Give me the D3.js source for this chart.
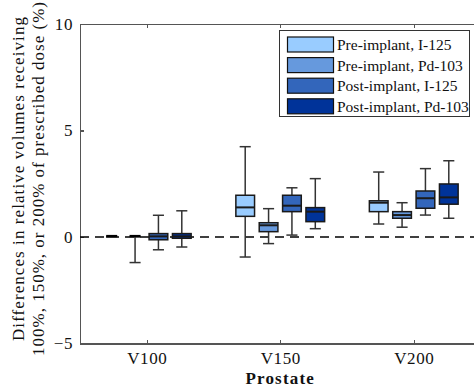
<!DOCTYPE html>
<html>
<meta charset="utf-8">
<style>
    body { margin: 0; background: #fff; }
    .axis path, .axis line { stroke: #555; stroke-width: 1.2px; shape-rendering: crispEdges; }
    .axis text { fill: #111; font-family: "Liberation Serif", "Times New Roman", serif; font-size: 17px; letter-spacing: 0.6px; }
    .ylabel { font-family: "Liberation Serif", "Times New Roman", serif; font-size: 17px; fill: #111; }
    .xlabel { font-family: "Liberation Serif", "Times New Roman", serif; font-size: 17px; font-weight: bold; letter-spacing: 1.2px; fill: #111; }
    .legend text { font-family: "Liberation Serif", "Times New Roman", serif; font-size: 15.5px; fill: #111; }
    .whisker { stroke: #333; stroke-width: 1.5px; }
    .box { stroke: #1a1a1a; stroke-width: 1.5px; }
    .median { stroke: #1a1a1a; stroke-width: 2px; }
    .flat { stroke: #000; stroke-width: 2.2px; }
    .zero { stroke: #000; stroke-width: 1.3px; stroke-dasharray: 9, 6; }
</style>

<body>
    <script src="https://d3js.org/d3.v7.min.js"></script>
    <script>

        var width = 474,
            height = 390;

        var categories = ["V100", "V150", "V200"];
        var series = ["Pre-implant, I-125", "Pre-implant, Pd-103", "Post-implant, I-125", "Post-implant, Pd-103"];
        var colors = ["#99ccff", "#6699dd", "#3366bb", "#003399"];
        var yTicks = [-5, 0, 5, 10];
        var yTitle = ["Differences in relative volumes receiving", "100%, 150%, or 200% of prescribed dose (%)"];

        // [lower whisker, q1, median, q3, upper whisker] for V100, V150, V200
        var preI125 = [[0, 0, 0, 0, 0], [-0.94, 0.97, 1.39, 1.96, 4.24], [0.61, 1.19, 1.61, 1.70, 3.05]];
        var prePd103 = [[-1.2, 0, 0, 0, 0], [-0.31, 0.25, 0.55, 0.67, 1.33], [0.46, 0.88, 1.03, 1.19, 1.61]];
        var postI125 = [[-0.6, -0.13, 0.03, 0.16, 1.02], [0.09, 1.19, 1.47, 1.96, 2.31], [1.03, 1.35, 1.82, 2.16, 3.21]];
        var postPd103 = [[-0.47, -0.06, 0.03, 0.16, 1.23], [0.39, 0.72, 1.19, 1.38, 2.74], [0.88, 1.54, 1.86, 2.49, 3.58]];

        var allSeries = [preI125, prePd103, postI125, postPd103];
        var offsets = [-0.2625, -0.0875, 0.0875, 0.2625];
        var boxW = 0.14, capW = 0.083;

        var x = d3.scaleLinear().domain([0.5, 3.5]).range([80, 480.5]);
        var y = d3.scaleLinear().domain([-5, 10]).range([343.5, 24]);

        var svg = d3.select("body").append("svg")
            .attr("width", width)
            .attr("height", height);

        // axes with inward ticks
        svg.append("g").attr("class", "axis")
            .attr("transform", "translate(0," + y(-5) + ")")
            .call(d3.axisBottom(x).tickValues([1, 2, 3])
                .tickFormat(function (d) { return categories[d - 1]; })
                .tickSizeInner(-4).tickSizeOuter(0).tickPadding(8.5));

        svg.append("g").attr("class", "axis")
            .attr("transform", "translate(0," + y(10) + ")")
            .call(d3.axisTop(x).tickValues([1, 2, 3]).tickFormat("")
                .tickSizeInner(-4).tickSizeOuter(0));

        svg.append("g").attr("class", "axis")
            .attr("transform", "translate(" + x(0.5) + ",0)")
            .call(d3.axisLeft(y).tickValues(yTicks)
                .tickSizeInner(-4).tickSizeOuter(0).tickPadding(7));

        svg.selectAll(".axis").attr("font-family", null).attr("font-size", null);

        // zero reference line
        svg.append("line").attr("class", "zero")
            .attr("x1", x(0.5)).attr("x2", x(3.5))
            .attr("y1", y(0)).attr("y2", y(0));

        // boxes
        allSeries.forEach(function (s, si) {
            var g = svg.append("g");
            s.forEach(function (d, ci) {
                var cx = ci + 1 + offsets[si];
                var gg = g.append("g");
                gg.append("line").attr("class", "whisker")
                    .attr("x1", x(cx)).attr("x2", x(cx))
                    .attr("y1", y(d[4])).attr("y2", y(d[0]));
                [d[0], d[4]].forEach(function (v) {
                    gg.append("line").attr("class", "whisker")
                        .attr("x1", x(cx - capW / 2)).attr("x2", x(cx + capW / 2))
                        .attr("y1", y(v)).attr("y2", y(v));
                });
                if (d[3] - d[1] > 0.05) {
                    gg.append("rect").attr("class", "box")
                        .attr("x", x(cx - boxW / 2))
                        .attr("width", x(cx + boxW / 2) - x(cx - boxW / 2))
                        .attr("y", y(d[3]))
                        .attr("height", y(d[1]) - y(d[3]))
                        .attr("fill", colors[si]);
                    gg.append("line").attr("class", "median")
                        .attr("x1", x(cx - boxW / 2)).attr("x2", x(cx + boxW / 2))
                        .attr("y1", y(d[2])).attr("y2", y(d[2]));
                } else {
                    // collapsed box: only a short flat bar shows
                    gg.append("line").attr("class", "flat")
                        .attr("x1", x(cx - capW / 2)).attr("x2", x(cx + capW / 2))
                        .attr("y1", y(d[2]) - 1).attr("y2", y(d[2]) - 1);
                }
            });
        });

        // axis titles
        var yLens = [324, 354];
        yTitle.forEach(function (t, i) {
            svg.append("text").attr("class", "ylabel")
                .attr("transform", "translate(" + (24 + i * 20) + ",179) rotate(-90)")
                .attr("text-anchor", "middle")
                .attr("textLength", yLens[i]).attr("lengthAdjust", "spacing")
                .text(t);
        });

        svg.append("text").attr("class", "xlabel")
            .attr("x", x(2)).attr("y", 384)
            .attr("text-anchor", "middle")
            .text("Prostate");

        // legend
        var leg = svg.append("g").attr("class", "legend");
        leg.append("rect")
            .attr("x", 279.5).attr("y", 30.5).attr("width", 190).attr("height", 86)
            .attr("fill", "#fff").attr("stroke", "#333").attr("stroke-width", 1);
        series.forEach(function (name, i) {
            var row = leg.append("g").attr("transform", "translate(0," + (i * 20.6) + ")");
            row.append("rect")
                .attr("x", 287.5).attr("y", 37).attr("width", 46).attr("height", 15)
                .attr("fill", colors[i]).attr("stroke", "#111").attr("stroke-width", 1.2);
            row.append("text").attr("x", 337).attr("y", 50).text(name);
        });

    </script>

</body>
</html>
